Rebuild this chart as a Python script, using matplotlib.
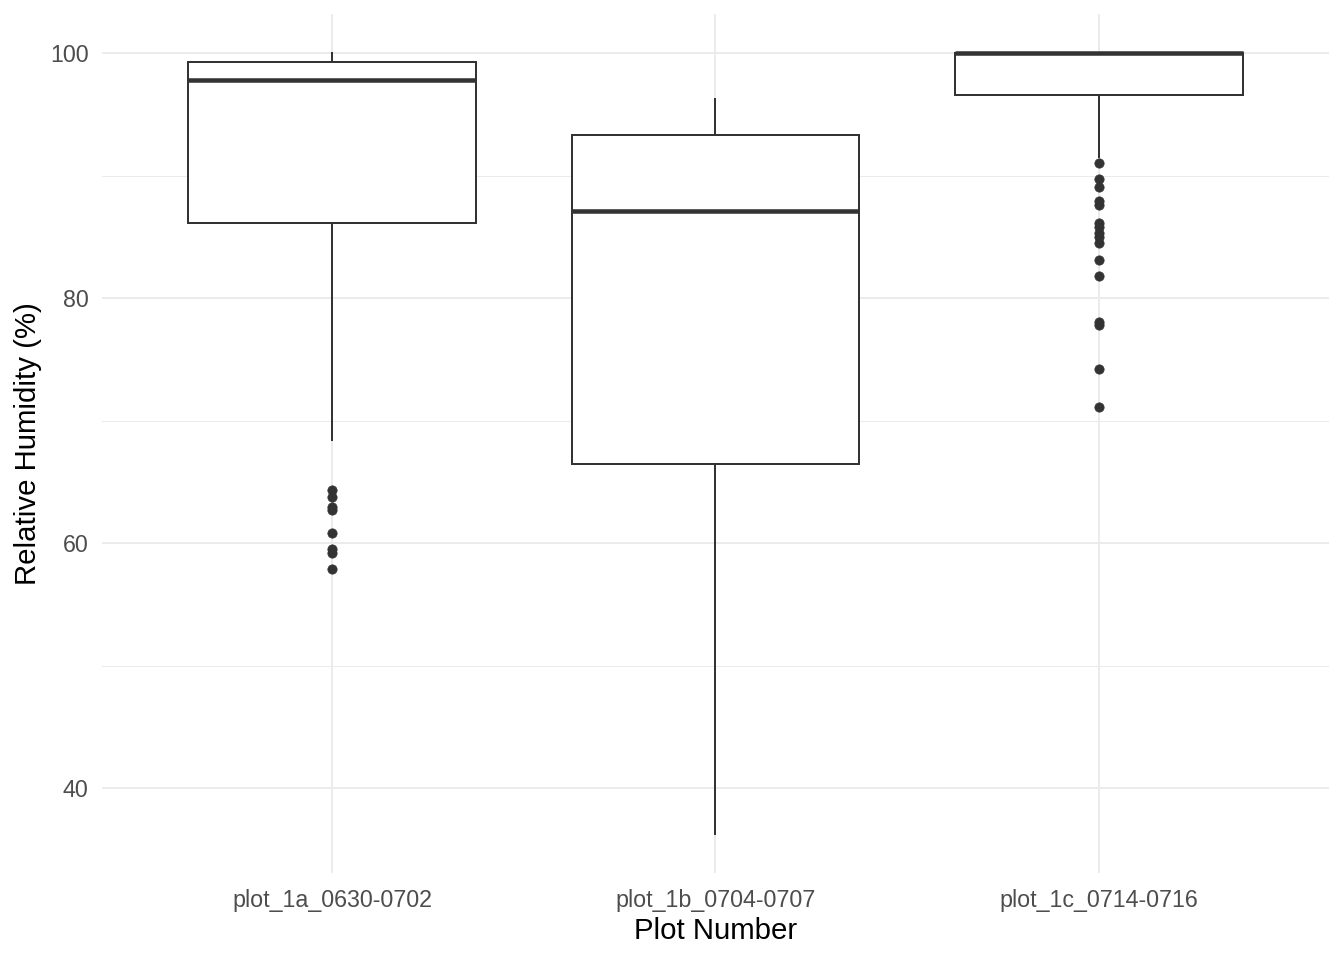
import matplotlib
matplotlib.use("Agg")
import matplotlib.pyplot as plt
from matplotlib.ticker import MultipleLocator

plt.rcParams['font.family'] = ['Liberation Sans', 'DejaVu Sans']

categories = ["plot_1a_0630-0702", "plot_1b_0704-0707", "plot_1c_0714-0716"]
whisker_low = [68.4, 36.25, 91.5]
q1 = [86.1, 66.46, 96.6]
median = [97.82, 87.13, 100.0]
q3 = [99.24, 93.29, 100.0]
whisker_high = [100.0, 96.24, 100.0]
outliers = [
    [64.33, 63.76, 62.94, 62.70, 60.84, 59.51, 59.18, 57.87],
    [],
    [91.0, 89.7, 89.04, 87.92, 87.57, 86.15, 85.77, 85.28, 84.95, 84.46,
     83.09, 81.84, 78.08, 77.83, 74.23, 71.1],
]

dark = "#333333"
grid = "#EBEBEB"

fig = plt.figure(figsize=(14, 10), dpi=96)
ax = fig.add_axes([0.0759, 0.0906, 0.9129, 0.8948])

stats = []
for i, c in enumerate(categories):
    stats.append(dict(label=c, whislo=whisker_low[i], q1=q1[i], med=median[i],
                      q3=q3[i], whishi=whisker_high[i], fliers=outliers[i]))

ax.bxp(stats, positions=[1, 2, 3], widths=0.75, patch_artist=True,
       showcaps=False,
       boxprops=dict(facecolor="white", edgecolor=dark, linewidth=1.5),
       medianprops=dict(color=dark, linewidth=3.4, solid_capstyle="butt"),
       whiskerprops=dict(color=dark, linewidth=1.5),
       flierprops=dict(marker="o", markerfacecolor=dark, markeredgecolor=dark,
                       markersize=7.0, markeredgewidth=0.5, linestyle="none"),
       zorder=3)

ax.set_xlim(0.4, 3.6)
ax.set_ylim(33.06, 103.19)
ax.yaxis.set_major_locator(MultipleLocator(20))
ax.yaxis.set_minor_locator(MultipleLocator(10))

ax.grid(True, which="major", color=grid, linewidth=1.5, zorder=0)
ax.grid(True, which="minor", axis="y", color=grid, linewidth=0.8, zorder=0)
ax.set_axisbelow(True)
for s in ax.spines.values():
    s.set_visible(False)

ax.tick_params(axis="both", which="both", length=0, labelcolor="#4D4D4D",
               labelsize=17.4)
ax.tick_params(axis="x", pad=12)
ax.tick_params(axis="y", pad=10)
ax.set_xticks([1, 2, 3])
ax.set_xticklabels(categories)

ax.set_xlabel("Plot Number", fontsize=22, color="black", labelpad=4)
ax.set_ylabel("Relative Humidity (%)", fontsize=22, color="black", labelpad=6)

fig.savefig("out.png", dpi=96, facecolor="white")
